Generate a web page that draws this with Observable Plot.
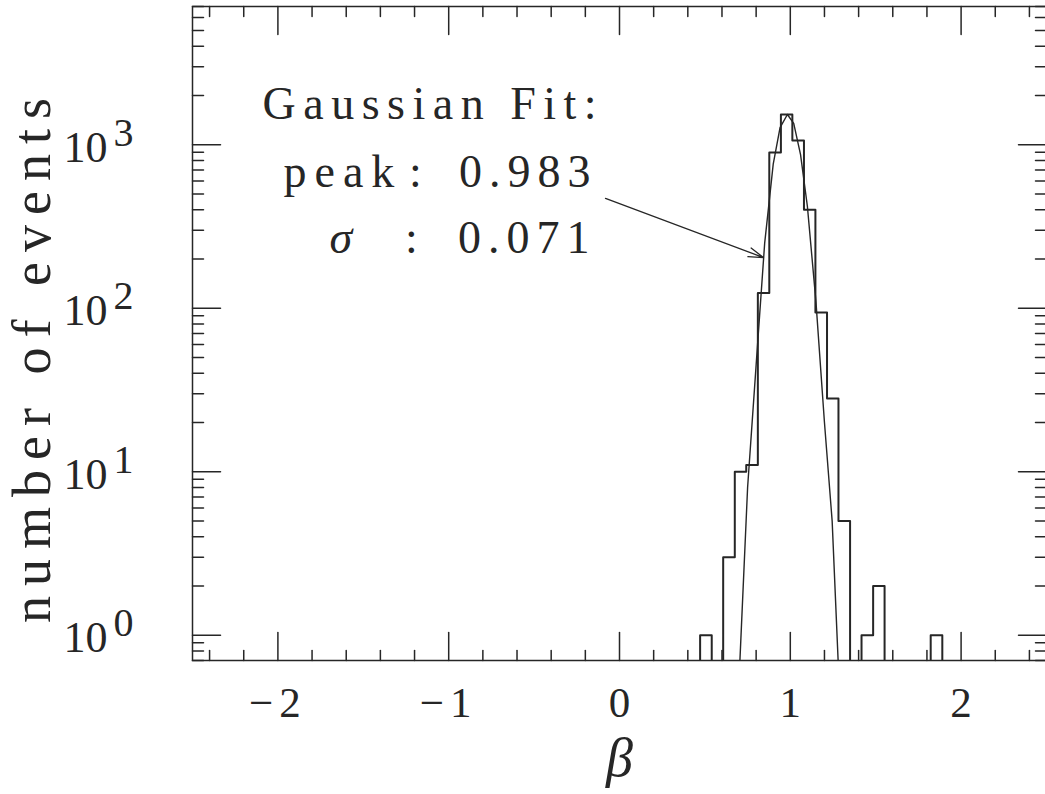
<!DOCTYPE html>
<html>
<head>
<meta charset="utf-8">
<script src="https://cdn.jsdelivr.net/npm/d3@7"></script>
<script src="https://cdn.jsdelivr.net/npm/@observablehq/plot@0.6"></script>
<style>
  html, body { margin: 0; padding: 0; background: #fff; overflow: hidden; }
  #chart svg { display: block; max-width: none !important; }
</style>
</head>
<body>
<div id="chart"></div>
<script>
// ---- data ----
const binEdges = [0.472, 0.540, 0.607, 0.675, 0.742, 0.810, 0.877, 0.945, 1.012, 1.080, 1.147,
                  1.215, 1.282, 1.350, 1.417, 1.485, 1.552, 1.620, 1.687, 1.755, 1.822, 1.890];
const counts   = [1, 0, 3, 10, 11, 124, 895, 1528, 1059, 400, 94, 28, 5, 0, 1, 2, 0, 0, 0, 0, 1];

const fitX = [0.705, 0.75, 0.80, 0.85, 0.90, 0.94, 0.983, 1.02, 1.06, 1.10, 1.15, 1.20, 1.245, 1.28];
const fitY = [0.7,   8,    45,   250,  760,  1270, 1530,  1350, 870,  420,  110,  20,   5,     0.7];

const xMajorTicks = [-2, -1, 0, 1, 2];
const xTickLabels = ["\u22122", "\u22121", "0", "1", "2"];
const xMinorTicks = [-2.4, -2.2, -1.8, -1.6, -1.4, -1.2, -0.8, -0.6, -0.4, -0.2,
                     0.2, 0.4, 0.6, 0.8, 1.2, 1.4, 1.6, 1.8, 2.2, 2.4];
const yMajorTicks = [1, 10, 100, 1000];
const yTickBase = ["10", "10", "10", "10"];
const yTickExponents = ["0", "1", "2", "3"];
const yMinorTicks = [0.7, 0.8, 0.9, 2, 3, 4, 5, 6, 7, 8, 9, 20, 30, 40, 50, 60, 70, 80, 90,
                     200, 300, 400, 500, 600, 700, 800, 900, 2000, 3000, 4000, 5000, 6000, 7000];

// annotation text pieces (data coordinates)
const fitLabelsStart = [
  {text: "Gaussian Fit:", x: -2.090, y: 1427},
  {text: "peak",          x: -1.967, y: 548},
  {text: "\u03c3",        x: -1.698, y: 219}
];
const fitLabelsMiddle = [
  {text: ":", x: -1.195, y: 548},
  {text: ":", x: -1.218, y: 219}
];
const fitLabelsEnd = [
  {text: "0.983", x: -0.129, y: 548},
  {text: "0.071", x: -0.135, y: 219}
];
const arrowLine = [{x1: -0.082, y1: 469, x2: 0.843, y2: 204}];

const xLabel = "\u03b2";
const yLabel = "number of events";

// ---- build ----
const ink = "#262626";
const font = "Liberation Serif, Times New Roman, serif";
const floorValue = 0.5;

const histPts = [{x: binEdges[0], y: floorValue}];
counts.forEach((c, i) => histPts.push({x: binEdges[i], y: c > 0 ? c : floorValue}));
histPts.push({x: binEdges[binEdges.length - 1], y: floorValue});

const fitPts = fitX.map((x, i) => ({x, y: fitY[i]}));

const tickShape = {draw(ctx, l) { ctx.moveTo(0, 0); ctx.lineTo(0, -l); }};
const tk = (data, channel, frameAnchor, rotate, length) =>
  Plot.vector(data, {[channel]: d => d, frameAnchor, rotate, length, anchor: "start",
                     shape: tickShape, stroke: ink, strokeWidth: 1.5});

const annot = (data, anchor) =>
  Plot.text(data, {x: "x", y: "y", text: "text", textAnchor: anchor, lineAnchor: "bottom",
                   fontSize: 46, fill: ink});

const chart = Plot.plot({
  width: 1047,
  height: 794,
  marginLeft: 192,
  marginRight: 1,
  marginTop: 6,
  marginBottom: 134,
  style: {fontFamily: font, background: "#fff", color: ink, maxWidth: "none"},
  x: {domain: [-2.5, 2.5], axis: null},
  y: {type: "log", domain: [0.7, 7000], axis: null},
  marks: [
    Plot.line(histPts, {x: "x", y: "y", curve: "step-after", stroke: ink, strokeWidth: 2, clip: true}),
    Plot.line(fitPts, {x: "x", y: "y", stroke: ink, strokeWidth: 1.4, clip: true}),
    Plot.arrow(arrowLine, {x1: "x1", y1: "y1", x2: "x2", y2: "y2", stroke: ink, strokeWidth: 1.3,
                           headLength: 18, headAngle: 34}),
    Plot.frame({stroke: ink, strokeWidth: 1.5}),
    // ticks (inward)
    tk(xMajorTicks, "x", "bottom", 0, 28),
    tk(xMinorTicks, "x", "bottom", 0, 10),
    tk(xMajorTicks, "x", "top", 180, 28),
    tk(xMinorTicks, "x", "top", 180, 10),
    tk(yMajorTicks, "y", "left", 90, 28),
    tk(yMinorTicks, "y", "left", 90, 11),
    tk(yMajorTicks, "y", "right", -90, 28),
    tk(yMinorTicks, "y", "right", -90, 11),
    // x tick labels
    Plot.text(xMajorTicks, {x: d => d, text: (d, i) => xTickLabels[i], frameAnchor: "bottom",
                            dy: 56, lineAnchor: "bottom", fontSize: 43, fill: ink}),
    // y tick labels 10^n
    Plot.text(yMajorTicks, {y: d => d, text: (d, i) => yTickBase[i], frameAnchor: "left",
                            dx: -85, dy: 17, textAnchor: "end", lineAnchor: "bottom", fontSize: 44, fill: ink}),
    Plot.text(yMajorTicks, {y: d => d, text: (d, i) => yTickExponents[i], frameAnchor: "left",
                            dx: -79, dy: 1, textAnchor: "start", lineAnchor: "bottom", fontSize: 40, fill: ink}),
    // axis labels
    Plot.text([xLabel], {text: d => d, frameAnchor: "bottom", dy: 115, lineAnchor: "bottom",
                         fontSize: 54, fontStyle: "italic", fill: ink}),
    Plot.text([yLabel], {text: d => d, frameAnchor: "left", rotate: -90, dx: -143, dy: 22,
                         lineAnchor: "bottom", textAnchor: "middle", fontSize: 54, fill: ink}),
    // fit annotation
    annot(fitLabelsStart, "start"),
    annot(fitLabelsMiddle, "middle"),
    annot(fitLabelsEnd, "end")
  ]
});
chart.style.maxWidth = "none";

// letter spacing to mimic the wide typesetting of the original
const spacing = {
  "number of events": 10, "Gaussian Fit:": 7.5, "peak": 8, "0.983": 7, "0.071": 7,
  "\u22122": 6, "\u22121": 6
};
d3.select(chart).selectAll("text").each(function() {
  const t = this.textContent;
  if (spacing[t] != null) this.setAttribute("letter-spacing", spacing[t]);
  if (t === "\u03c3") this.setAttribute("font-style", "italic");
});

document.getElementById("chart").appendChild(chart);
</script>
</body>
</html>
